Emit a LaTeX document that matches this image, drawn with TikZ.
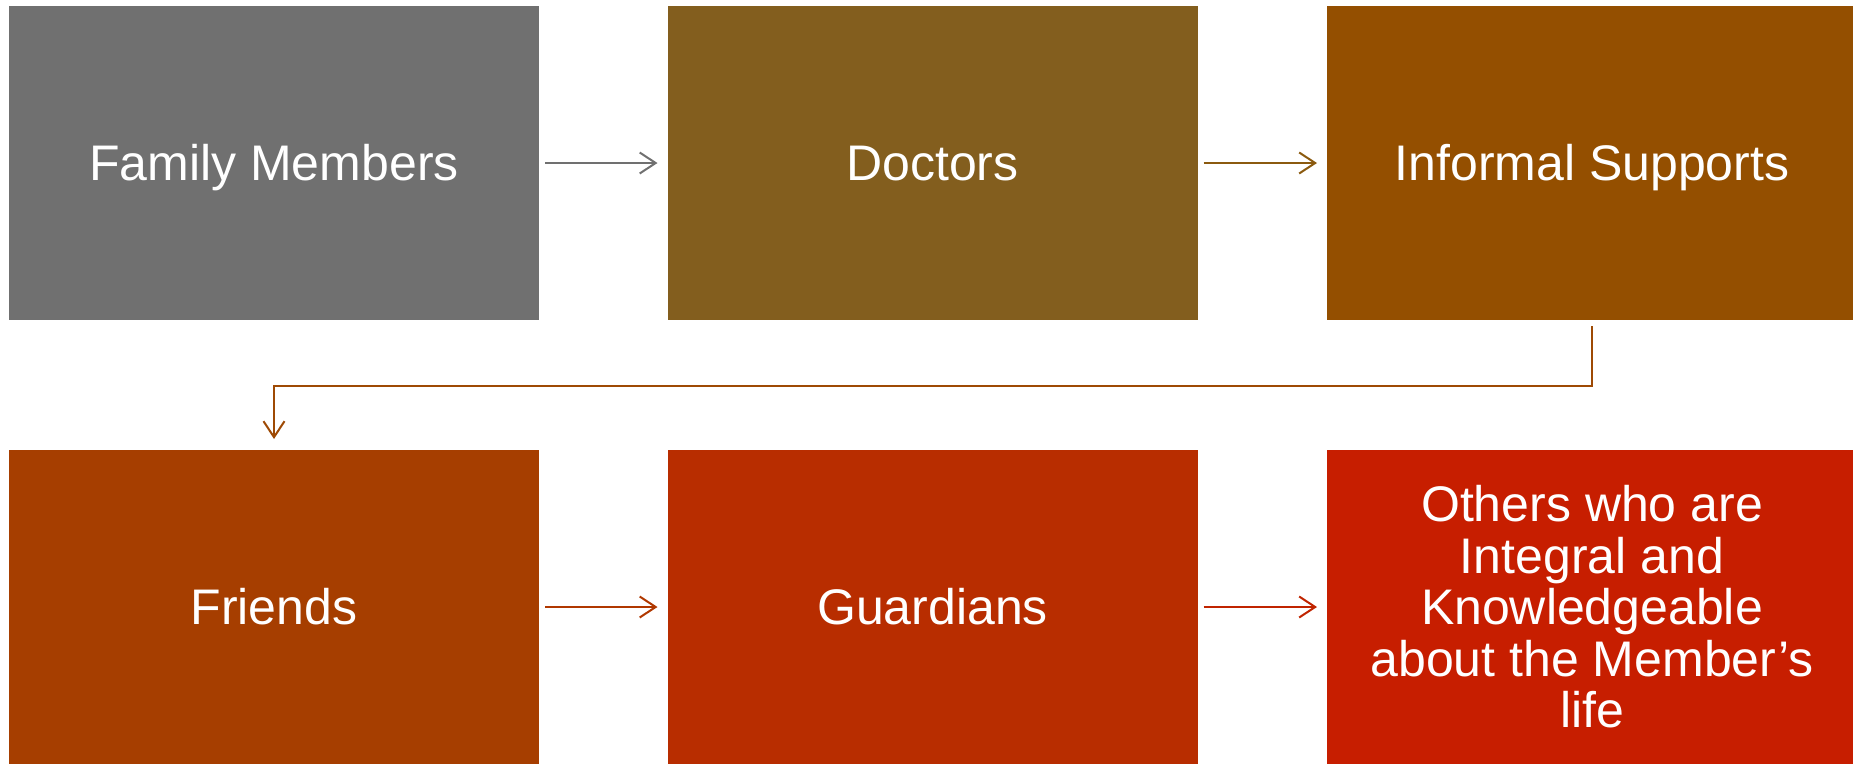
\documentclass[tikz,border=0pt]{standalone}
\usepackage{fontspec}
\setmainfont{Liberation Sans}
\usetikzlibrary{arrows.meta}
\definecolor{cFam}{HTML}{707070}
\definecolor{cDoc}{HTML}{835E1E}
\definecolor{cInf}{HTML}{944F00}
\definecolor{cFri}{HTML}{A63E00}
\definecolor{cGua}{HTML}{B82D00}
\definecolor{cOth}{HTML}{C71E00}
\definecolor{aOne}{HTML}{707070}
\definecolor{aTwo}{HTML}{8B5A0F}
\definecolor{aThree}{HTML}{9E4A04}
\definecolor{aFour}{HTML}{B03800}
\definecolor{aFive}{HTML}{C02400}
\tikzset{
  box/.style={minimum width=530pt, minimum height=314pt, inner sep=0pt, outer sep=0pt,
    text=white, align=center, font=\fontsize{50}{51.5}\selectfont},
  oneline/.style={text height=45.25pt, text depth=10.6pt},
  conn/.style={line width=2pt, -{Straight Barb[length=16pt,width=21pt,line width=2pt]}},
}
\begin{document}
\begin{tikzpicture}[x=1pt,y=-1pt]
\useasboundingbox (0,0) rectangle (1853,764);
\clip (0,0) rectangle (1853,764);
\node[box, oneline, fill=cFam] (fam) at (274,163) {Family Members};
\node[box, oneline, fill=cDoc] (doc) at (932.5,163) {Doctors};
\node[box, oneline, fill=cInf] (inf) at (1592,163) {Informal Supports};
\node[box, oneline, fill=cFri] (fri) at (274,607) {Friends};
\node[box, oneline, fill=cGua] (gua) at (932.5,607) {Guardians};
\node[box, fill=cOth] (oth) at (1592,607) {Others who are\\Integral and\\Knowledgeable\\about the Member’s\\life};
\draw[conn, aOne, shorten <=6pt, shorten >=10pt] (fam.east) -- (doc.west);
\draw[conn, aTwo, shorten <=6pt, shorten >=10pt] (doc.east) -- (inf.west);
\draw[conn, aFour, shorten <=6pt, shorten >=10pt] (fri.east) -- (gua.west);
\draw[conn, aFive, shorten <=6pt, shorten >=10pt] (gua.east) -- (oth.west);
\coordinate (bend) at (0,386);
\draw[conn, aThree, shorten <=6pt, shorten >=11pt] (inf.south) |- (bend -| fri.north) -- (fri.north);
\end{tikzpicture}
\end{document}
